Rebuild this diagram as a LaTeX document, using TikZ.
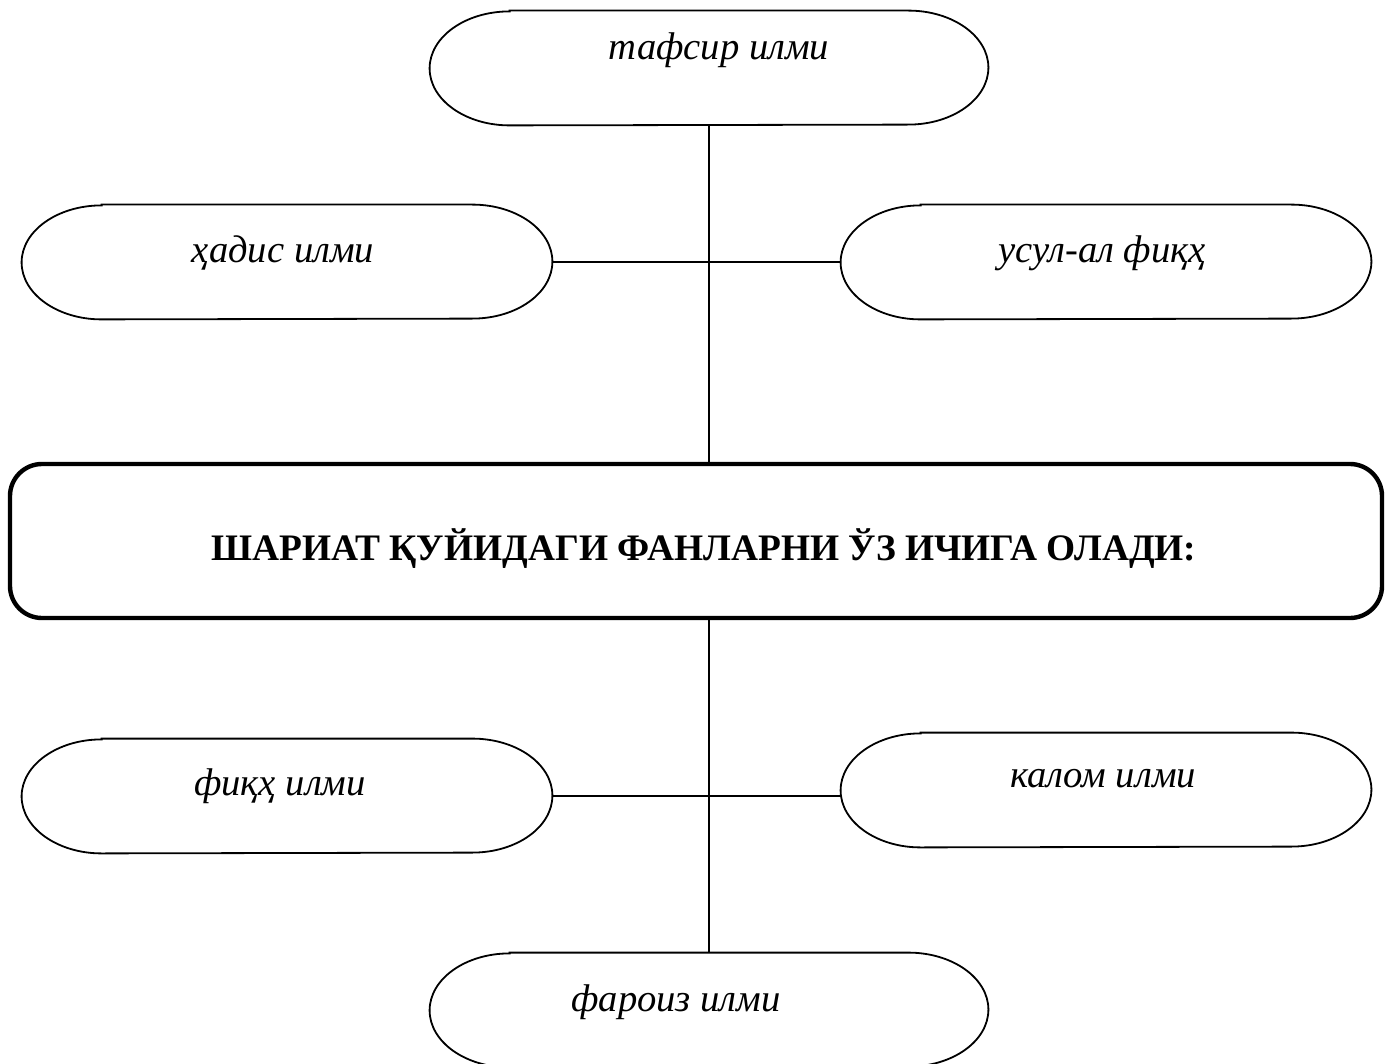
\documentclass[tikz,border=0pt]{standalone}
\usepackage{fontspec}
\setmainfont{Liberation Serif}[BoldFont={Liberation Serif Bold}, ItalicFont={Liberation Serif Italic}]
\usetikzlibrary{positioning, calc}

\tikzset{
  pill/.style={minimum width=265pt, minimum height=57pt, inner sep=0pt},
  widepill/.style={pill, minimum width=279pt},
  lbl/.style={font=\itshape\fontsize{19.3}{23}\selectfont, inner sep=0pt},
  mainbox/.style={draw, line width=2.2pt, rounded corners=16pt, minimum width=686pt,
    minimum height=77pt, inner sep=0pt},
  boxtxt/.style={font=\bfseries\fontsize{18.7}{22}\selectfont, inner sep=0pt},
  link/.style={line width=0.9pt}
}

\begin{document}
\begin{tikzpicture}[x=0.5pt, y=-0.5pt]
\useasboundingbox (0,0) rectangle (1386,1064);

% Pills above the box
\node[widepill] (taf) at (709,68) {};
\node[lbl] (taf-t) at (719,50) {тафсир илми};

\node[pill] (hadis) at (287,262) {};
\node[lbl] (hadis-t) at (283,253) {ҳадис илми};

\node[pill] (usul) at (1106,262) {};
\node[lbl] (usul-t) at (1102,253) {усул-ал фиқҳ};

% Main box
\node[mainbox] (sh) at (696,541) {};
\node[boxtxt] (sh-t) at (704,549) {ШАРИАТ ҚУЙИДАГИ ФАНЛАРНИ ЎЗ ИЧИГА ОЛАДИ:};

% Pills below the box
\node[pill] (fiqh) at (287,796) {};
\node[lbl] (fiqh-t) at (280,786) {фиқҳ илми};

\node[pill] (kalom) at (1106,790) {};
\node[lbl] (kalom-t) at (1103,779) {калом илми};

\node[widepill] (faroiz) at (709,1010) {};
\node[lbl] (faroiz-t) at (676,1002) {фароиз илми};

% Pill outlines
\foreach \n in {taf,hadis,usul,fiqh,kalom,faroiz}
  \draw[link] ($(\n.north west)+(40pt,0)$) -- ($(\n.north east)+(-40pt,0)$)
    arc[start angle=90, end angle=-90, x radius=40pt, y radius=28.5pt]
    -- ($(\n.south west)+(40pt,0)$)
    arc[start angle=270, end angle=90, x radius=40pt, y radius=28.5pt] -- cycle;

% Connectors
\draw[link] (taf.south) -- (taf.south |- sh.north);
\draw[link] (hadis.east) -- (usul.west);
\draw[link] (sh.south -| faroiz.north) -- (faroiz.north);
\draw[link] (fiqh.east) -- (fiqh.east -| kalom.west);
\end{tikzpicture}
\end{document}
